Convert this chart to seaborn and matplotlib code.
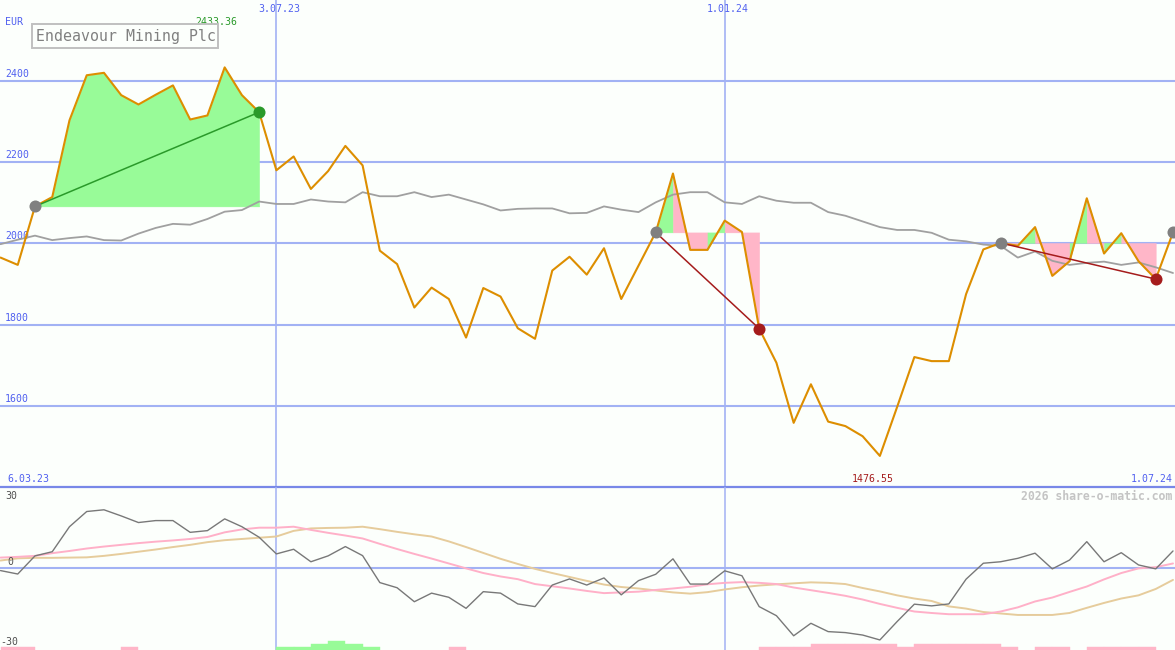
import itertools
import pandas as pd
import matplotlib
import matplotlib.pyplot as plt
from matplotlib.patches import Rectangle
import seaborn as sns

matplotlib.use('Agg')

# weekly closing prices (EUR) and indicators
weeks = pd.date_range('2023-03-13', periods=69, freq='7D')

price = [1965, 1947, 2091, 2114, 2303, 2414, 2420, 2365, 2342, 2366,
         2389, 2305, 2315, 2433.36, 2365, 2323, 2180, 2214, 2134, 2178,
         2240, 2192, 1982, 1949, 1842, 1891, 1863, 1768, 1890, 1869,
         1791, 1765, 1933, 1967, 1923, 1988, 1863, 1945, 2027, 2172,
         1984, 1984, 2056, 2028, 1790, 1706, 1558, 1653, 1561, 1550,
         1525, 1476.55, 1597, 1720, 1710, 1710, 1875, 1985, 2001, 1994,
         2040, 1920, 1956, 2111, 1975, 2025, 1956, 1912, 2027]

moving_avg = [1998, 2009, 2019, 2008, 2013, 2017, 2008, 2007, 2024, 2038,
              2048, 2046, 2060, 2078, 2082, 2103, 2097, 2097, 2108, 2103,
              2101, 2126, 2116, 2116, 2126, 2114, 2120, 2108, 2096, 2081,
              2085, 2086, 2086, 2074, 2075, 2091, 2083, 2077, 2101, 2120,
              2126, 2126, 2101, 2097, 2116, 2105, 2100, 2100, 2077, 2068,
              2054, 2040, 2033, 2033, 2026, 2009, 2005, 1997, 1994, 1965,
              1980, 1957, 1947, 1952, 1955, 1947, 1953, 1941, 1927]

momentum = [-1.2, -2.6, 4.8, 6.5, 16.7, 22.9, 23.6, 21.1, 18.4, 19.2,
            19.2, 14.4, 15.1, 19.9, 16.7, 12.4, 5.6, 7.5, 2.4, 4.8,
            8.6, 4.9, -6.1, -8.2, -13.9, -10.4, -12.1, -16.6, -9.8, -10.4,
            -14.8, -15.9, -7.1, -4.6, -7.1, -4.2, -11.1, -5.3, -2.7, 3.6,
            -6.7, -6.7, -1.3, -3.3, -15.9, -19.6, -27.8, -22.7, -26.1, -26.5,
            -27.5, -29.5, -22.0, -14.9, -15.6, -14.8, -4.7, 1.8, 2.4, 3.8,
            5.9, -0.5, 3.1, 10.6, 2.4, 6.1, 1.1, -0.5, 6.8]

signal = [4.1, 4.4, 4.8, 5.9, 6.8, 7.8, 8.6, 9.3, 10.0, 10.6,
          11.1, 11.7, 12.5, 14.4, 15.6, 16.3, 16.3, 16.7, 15.4, 14.2,
          13.1, 11.9, 9.7, 7.6, 5.6, 3.7, 1.7, -0.3, -2.2, -3.6,
          -4.7, -6.7, -7.6, -8.5, -9.5, -10.4, -10.1, -9.8, -9.1, -8.5,
          -7.8, -6.8, -6.2, -5.9, -6.2, -6.7, -8.1, -9.2, -10.3, -11.5,
          -13.0, -14.8, -16.4, -17.9, -18.5, -19.0, -19.0, -19.0, -17.9, -16.2,
          -13.8, -12.2, -9.9, -7.7, -4.8, -2.2, -0.3, 0.2, 1.7]

slow = [2.9, 3.8, 4.0, 4.0, 4.1, 4.2, 4.8, 5.6, 6.5, 7.4,
        8.4, 9.3, 10.4, 11.2, 11.7, 12.2, 12.7, 15.0, 16.0, 16.2,
        16.3, 16.7, 15.7, 14.6, 13.6, 12.7, 10.7, 8.4, 6.0, 3.6,
        1.5, -0.5, -2.2, -3.8, -5.4, -6.9, -7.9, -8.5, -9.3, -10.1,
        -10.6, -10.0, -8.9, -8.0, -7.3, -6.8, -6.4, -6.0, -6.2, -6.7,
        -8.3, -9.7, -11.3, -12.6, -13.6, -15.8, -16.7, -18.1, -18.7, -19.3,
        -19.3, -19.3, -18.5, -16.4, -14.4, -12.6, -11.3, -8.7, -5.0]

hist = [-1, -1, 0, 0, 0, 0, 0, -1, 0, 0,
        0, 0, 0, 0, 0, 0, 1, 1, 2, 3,
        2, 1, 0, 0, 0, 0, -1, 0, 0, 0,
        0, 0, 0, 0, 0, 0, 0, 0, 0, 0,
        0, 0, 0, 0, -1, -1, -1, -2, -2, -2,
        -2, -2, -1, -2, -2, -2, -2, -2, -1, 0,
        -1, -1, 0, -1, -1, -1, -1, 0, 0]

# trades: entry week, exit week, colour of each weekly segment (g/p)
trades = [(2, 15, 'ggggggggggggg'),
          (38, 44, 'gppgpp'),
          (58, 67, 'pgppgpgpp')]
open_trade = 68

price_ticks = [1600, 1800, 2000, 2200, 2400]
date_lines = ['2023-07-03', '2024-01-01']
date_labels = ['3.07.23', '1.01.24']

BG = '#fcfffc'
GRID = '#a2b2f4'
BLUE = '#5060f0'
GREEN = '#98fb98'
PINK = '#ffb6c8'
W, H = 1175, 650

sns.set_theme(style='white')
plt.rcParams['font.family'] = ['DejaVu Sans Mono', 'DejaVu Sans']

fig = plt.figure(figsize=(W / 100, H / 100), dpi=100, facecolor=BG)
ax = fig.add_axes([0, 163 / H, 1, 487 / H])
axb = fig.add_axes([0, 0, 1, 163 / H])

x0 = weeks[0] - pd.Timedelta(hours=5)
x1 = x0 + pd.Timedelta(days=W / 2.4632)
for a in (ax, axb):
    a.set_facecolor(BG)
    a.set_xlim(x0, x1)
    a.set_axis_off()
ax.set_ylim(1400, 2599.3)
axb.set_ylim(-33.6, 32.9)

# grid
for v in price_ticks:
    ax.axhline(v, color=GRID, lw=1.5, zorder=0.5)
    ax.annotate(str(v), xy=(0, v), xycoords=('axes fraction', 'data'),
                xytext=(5, 2), textcoords='offset pixels',
                color=BLUE, fontsize=7.1, va='bottom', ha='left')
for d, lab in zip(date_lines, date_labels):
    ax.axvline(pd.Timestamp(d), color=GRID, lw=1.2, zorder=0.5)
    axb.axvline(pd.Timestamp(d), color=GRID, lw=1.1, zorder=0.5)
    ax.annotate(lab, xy=(pd.Timestamp(d), 1), xycoords=('data', 'axes fraction'),
                xytext=(3, -9), textcoords='offset pixels',
                color=BLUE, fontsize=7.1, va='center', ha='center')
ax.axhline(1400, color='#7888e8', lw=1.6, zorder=3, clip_on=False)
axb.axhline(0, color=GRID, lw=1.5, zorder=0.5)

# moving average and trade fills (consecutive same-colour weeks merged)
sns.lineplot(x=weeks, y=moving_avg, ax=ax, color='#a0a0a0', lw=1.3, zorder=3)
for a, b, segs in trades:
    i = a
    for c, grp in itertools.groupby(segs):
        n = len(list(grp))
        col = GREEN if c == 'g' else PINK
        ax.fill_between(weeks[i:i + n + 1], price[i:i + n + 1], price[a],
                        facecolor=col, edgecolor=col, lw=0.3, zorder=2)
        i += n

sns.lineplot(x=weeks, y=price, ax=ax, color='#dd8e00', lw=1.5, zorder=4)

for a, b, segs in trades:
    col = '#2a9a2a' if price[b] > price[a] else '#a51c1c'
    sns.lineplot(x=[weeks[a], weeks[b]], y=[price[a], price[b]], ax=ax,
                 color=col, lw=1.1, zorder=5)
    ax.scatter(weeks[a], price[a], s=75, color='#808080', zorder=6, lw=0)
    ax.scatter(weeks[b], price[b], s=75, color=col, zorder=6, lw=0)
ax.scatter(weeks[open_trade], price[open_trade], s=75, color='#808080',
           zorder=6, lw=0)

# high / low annotations
imax = price.index(max(price))
imin = price.index(min(price))
ax.annotate(f'{price[imax]:.2f}', xy=(weeks[imax], 1),
            xycoords=('data', 'axes fraction'), xytext=(-8, -21.7),
            textcoords='offset pixels', color='#2a9a2a', fontsize=7.1,
            ha='center', va='center')
ax.annotate(f'{price[imin]:.2f}', xy=(weeks[imin], 0),
            xycoords=('data', 'axes fraction'), xytext=(-7.5, 8),
            textcoords='offset pixels', color='#a51c1c', fontsize=7.1,
            ha='center', va='center')


def ftext(x, y, s, **kw):
    fig.text(x / W, 1 - y / H, s, **kw)


ftext(5, 21.7, 'EUR', color=BLUE, fontsize=7.1, va='center')
ftext(7, 479, '6.03.23', color=BLUE, fontsize=7.1, va='center')
ftext(1172.5, 479, '1.07.24', color=BLUE, fontsize=7.1, va='center', ha='right')
fig.patches.append(Rectangle((32.3 / W, 1 - 48.3 / H), 186 / W, 24 / H,
                             transform=fig.transFigure, fill=False,
                             edgecolor='#c0c0c0', lw=1.4))
ftext(36.5, 36.5, 'Endeavour Mining Plc', color='#808080', fontsize=10.75,
      va='center')
ftext(1172.5, 496.7, '2026 share-o-matic.com', color='#c4c4c4', fontsize=8.3,
      fontweight='bold', va='center', ha='right')

# oscillator panel
axh = axb.twinx()
axh.set_ylim(0, 54.3)
axh.set_axis_off()
hw = pd.Timedelta(days=7)
for i, v in enumerate(hist):
    if v:
        col = GREEN if v > 0 else PINK
        axh.bar(weeks[i], abs(v), width=hw, align='edge',
                facecolor=col, edgecolor=col, lw=0.3)

sns.lineplot(x=weeks, y=slow, ax=axb, color='#e6cc9c', lw=1.4, zorder=3)
sns.lineplot(x=weeks, y=signal, ax=axb, color='#ffb0c8', lw=1.4, zorder=3)
sns.lineplot(x=weeks, y=momentum, ax=axb, color='#787878', lw=1.0, zorder=4)

ftext(5.7, 495.7, '30', color='#505050', fontsize=7.1, va='center')
ftext(7, 561.7, '0', color='#505050', fontsize=7.1, va='center')
ftext(0.5, 642.3, '-30', color='#505050', fontsize=7.1, va='center')

fig.savefig('out.png', dpi=100, facecolor=BG)
plt.close(fig)
